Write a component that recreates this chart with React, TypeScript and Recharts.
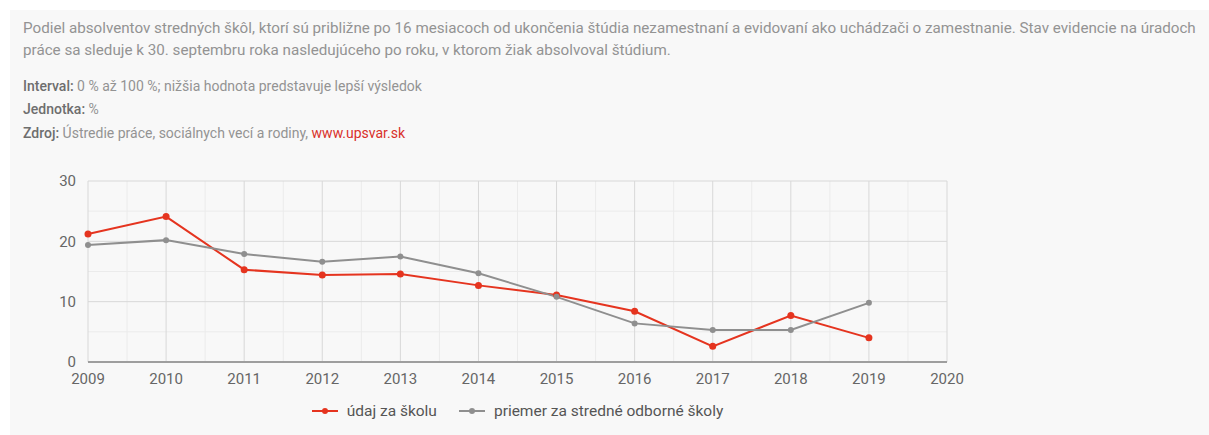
import React from "react";
import {
  LineChart,
  Line,
  XAxis,
  YAxis,
  CartesianGrid,
  Legend,
} from "recharts";

const years = [2009, 2010, 2011, 2012, 2013, 2014, 2015, 2016, 2017, 2018, 2019];
const schoolValues = [21.2, 24.1, 15.3, 14.4, 14.6, 12.7, 11.1, 8.4, 2.6, 7.7, 4.0];
const averageValues = [19.4, 20.2, 17.9, 16.6, 17.5, 14.7, 10.8, 6.4, 5.3, 5.3, 9.8];

const xTicks = [2009, 2010, 2011, 2012, 2013, 2014, 2015, 2016, 2017, 2018, 2019, 2020];
const yTicks = [0, 10, 20, 30];
const xMinor = [2009.5, 2010.5, 2011.5, 2012.5, 2013.5, 2014.5, 2015.5, 2016.5, 2017.5, 2018.5, 2019.5];
const yMinor = [5, 15, 25];

const schoolLabel = "údaj za školu";
const averageLabel = "priemer za stredné odborné školy";

const RED = "#e5341f";
const GRAY = "#8f8f8f";
const FONT = "Roboto, 'Noto Sans', sans-serif";

const data = years.map((year, i) => ({
  year,
  school: schoolValues[i],
  average: averageValues[i],
}));

const textStyle: React.CSSProperties = {
  position: "absolute",
  left: 23,
  fontFamily: FONT,
  fontSize: 15.2,
  lineHeight: "18px",
  color: "#939393",
  whiteSpace: "nowrap",
};

const noteStyle: React.CSSProperties = { ...textStyle, fontSize: 14, lineHeight: "16px" };
const labelStyle: React.CSSProperties = { color: "#6e6e6e", fontWeight: 500 };

function LegendIcon({ color }: { color: string }) {
  return (
    <svg width={26} height={10} style={{ marginRight: 9, verticalAlign: "middle" }}>
      <line x1={0} y1={5} x2={26} y2={5} stroke={color} strokeWidth={2} />
      <circle cx={13} cy={5} r={3} fill={color} />
    </svg>
  );
}

function ChartLegend() {
  return (
    <div
      style={{
        textAlign: "center",
        paddingTop: 15,
        fontFamily: FONT,
        fontSize: 15.5,
        color: "#555",
      }}
    >
      <span style={{ marginRight: 22 }}>
        <LegendIcon color={RED} />
        <span style={{ verticalAlign: "middle" }}>{schoolLabel}</span>
      </span>
      <span>
        <LegendIcon color={GRAY} />
        <span style={{ verticalAlign: "middle" }}>{averageLabel}</span>
      </span>
    </div>
  );
}

export default function App() {
  return (
    <div
      style={{
        position: "absolute",
        left: 0,
        top: 0,
        width: 1209,
        height: 435,
        background: "#fff",
        overflow: "hidden",
      }}
    >
      <div
        style={{
          position: "absolute",
          left: 10,
          top: 10,
          right: 0,
          bottom: 0,
          background: "#f8f8f8",
        }}
      />
      <div style={{ ...textStyle, top: 19 }}>
        Podiel absolventov stredných škôl, ktorí sú približne po 16 mesiacoch od ukončenia štúdia nezamestnaní a evidovaní ako uchádzači o zamestnanie. Stav evidencie na úradoch
      </div>
      <div style={{ ...textStyle, top: 41 }}>
        práce sa sleduje k 30. septembru roka nasledujúceho po roku, v ktorom žiak absolvoval štúdium.
      </div>
      <div style={{ ...noteStyle, top: 78 }}>
        <b style={labelStyle}>Interval:</b> 0 % až 100 %; nižšia hodnota predstavuje lepší výsledok
      </div>
      <div style={{ ...noteStyle, top: 101 }}>
        <b style={labelStyle}>Jednotka:</b> %
      </div>
      <div style={{ ...noteStyle, top: 125 }}>
        <b style={labelStyle}>Zdroj:</b> Ústredie práce, sociálnych vecí a rodiny,{" "}
        <span style={{ color: "#d9302a" }}>www.upsvar.sk</span>
      </div>

      <div style={{ position: "absolute", left: 0, top: 150 }}>
        <LineChart
          width={1000}
          height={277}
          data={data}
          margin={{ top: 31, right: 53, left: 48, bottom: 5 }}
        >
          <CartesianGrid
            stroke="#ebebeb"
            verticalValues={xMinor}
            horizontalValues={yMinor}
          />
          <CartesianGrid stroke="#d8d8d8" verticalValues={xTicks} horizontalValues={yTicks} />
          <XAxis
            dataKey="year"
            type="number"
            domain={[2009, 2020]}
            ticks={xTicks}
            interval={0}
            stroke="#9e9e9e"
            strokeWidth={2}
            tickLine={false}
            tickSize={6}
            tickMargin={5}
            height={24}
            tick={{ fill: "#666", fontSize: 15, fontFamily: FONT }}
          />
          <YAxis
            type="number"
            domain={[0, 30]}
            ticks={yTicks}
            axisLine={false}
            tickLine={false}
            width={40}
            tickMargin={6}
            tick={{ fill: "#666", fontSize: 15, fontFamily: FONT }}
          />
          <Legend
            verticalAlign="bottom"
            height={36}
            wrapperStyle={{ left: 88, width: 859 }}
            content={() => <ChartLegend />}
          />
          <Line
            dataKey="school"
            name={schoolLabel}
            stroke={RED}
            strokeWidth={2}
            dot={{ r: 3.5, fill: RED, stroke: RED, strokeWidth: 0 }}
            isAnimationActive={false}
          />
          <Line
            dataKey="average"
            name={averageLabel}
            stroke={GRAY}
            strokeWidth={2}
            dot={{ r: 3, fill: GRAY, stroke: GRAY, strokeWidth: 0 }}
            isAnimationActive={false}
          />
        </LineChart>
      </div>
    </div>
  );
}
